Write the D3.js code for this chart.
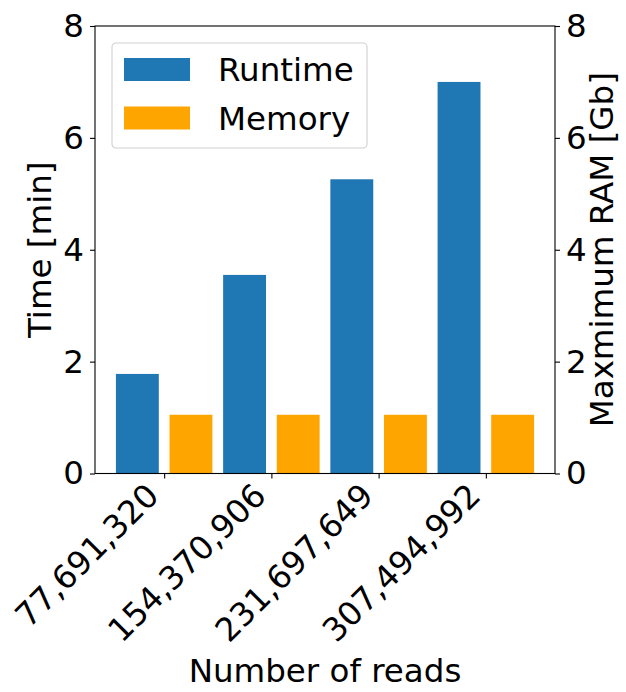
<!DOCTYPE html>
<html>
<head>
<meta charset="utf-8">
<script src="https://cdn.jsdelivr.net/npm/d3@7"></script>
<style>
  body { margin: 0; background: #fff; }
  text { font-family: "DejaVu Sans", sans-serif; }
</style>
</head>
<body>
<div id="chart"></div>
<script>
// data
let reads = ["77,691,320", "154,370,906", "231,697,649", "307,494,992"];
let runtime = [1.78, 3.55, 5.26, 7.0];   // minutes
let memory = [1.05, 1.05, 1.05, 1.05];   // Gb
let yTicks = [0, 2, 4, 6, 8];

let W = 626, H = 692;
let margin = {top: 26, right: 71, bottom: 218.5, left: 95};
let width = W - margin.left - margin.right;
let height = H - margin.top - margin.bottom;
let fs = 32.5;

let svg = d3.select("#chart")
  .append("svg")
  .attr("width", W)
  .attr("height", H);
let g = svg.append("g")
  .attr("transform", "translate(" + margin.left + "," + margin.top + ")");

// bars sit at i-0.25 and i+0.25 with width 0.4, plus 5% padding like matplotlib
let x = d3.scaleLinear().domain([-0.645, 3.645]).range([0, width]);
let yL = d3.scaleLinear().domain([0, 8]).range([height, 0]);
let yR = d3.scaleLinear().domain([0, 8]).range([height, 0]);
let bw = x(0.4) - x(0);

g.selectAll(".run")
  .data(runtime)
  .enter().append("rect")
  .attr("class", "run")
  .attr("x", (d, i) => x(i - 0.25) - bw / 2)
  .attr("y", d => yL(d))
  .attr("width", bw)
  .attr("height", d => height - yL(d))
  .attr("fill", "#1f77b4");

g.selectAll(".mem")
  .data(memory)
  .enter().append("rect")
  .attr("class", "mem")
  .attr("x", (d, i) => x(i + 0.25) - bw / 2)
  .attr("y", d => yR(d))
  .attr("width", bw)
  .attr("height", d => height - yR(d))
  .attr("fill", "#ffa500");

// axes
let styleAxis = sel => {
  sel.select(".domain").remove();
  sel.selectAll("line").attr("stroke", "#000").attr("stroke-width", 1.1);
  sel.selectAll("text").attr("font-size", fs).attr("fill", "#000");
};

g.append("g")
  .call(d3.axisLeft(yL).tickValues(yTicks).tickSize(5).tickPadding(6).tickFormat(d3.format("d")))
  .call(styleAxis);

g.append("g")
  .attr("transform", "translate(" + width + ",0)")
  .call(d3.axisRight(yR).tickValues(yTicks).tickSize(5).tickPadding(6).tickFormat(d3.format("d")))
  .call(styleAxis);

let xAxis = g.append("g")
  .attr("transform", "translate(0," + height + ")")
  .call(d3.axisBottom(x).tickValues([0, 1, 2, 3]).tickSize(5).tickFormat(i => reads[i]))
  .call(styleAxis);
xAxis.selectAll("text")
  .attr("text-anchor", "end")
  .attr("dy", null)
  .attr("y", null)
  .attr("transform", "translate(-4,24) rotate(-45)");

// frame
g.append("rect")
  .attr("width", width)
  .attr("height", height)
  .attr("fill", "none")
  .attr("stroke", "#000")
  .attr("stroke-width", 1.1);

// axis titles
g.append("text")
  .attr("transform", "translate(-44," + height / 2 + ") rotate(-90)")
  .attr("text-anchor", "middle")
  .attr("font-size", fs)
  .text("Time [min]");

g.append("text")
  .attr("transform", "translate(" + (width + 58) + "," + height / 2 + ") rotate(-90)")
  .attr("text-anchor", "middle")
  .attr("font-size", fs)
  .text("Maxmimum RAM [Gb]");

g.append("text")
  .attr("x", width / 2)
  .attr("y", H - margin.top - 10)
  .attr("text-anchor", "middle")
  .attr("font-size", fs)
  .text("Number of reads");

// legend
let legend = g.append("g").attr("transform", "translate(17,17)");
legend.append("rect")
  .attr("width", 255)
  .attr("height", 105)
  .attr("rx", 4)
  .attr("fill", "#fff")
  .attr("fill-opacity", 0.8)
  .attr("stroke", "#d0d0d0")
  .attr("stroke-width", 1.1);
let items = [["Runtime", "#1f77b4"], ["Memory", "#ffa500"]];
items.forEach((it, i) => {
  legend.append("rect")
    .attr("x", 12)
    .attr("y", 15 + i * 48.5)
    .attr("width", 66)
    .attr("height", 23)
    .attr("fill", it[1]);
  legend.append("text")
    .attr("x", 106)
    .attr("y", 38 + i * 48.5)
    .attr("font-size", fs)
    .text(it[0]);
});
</script>
</body>
</html>
